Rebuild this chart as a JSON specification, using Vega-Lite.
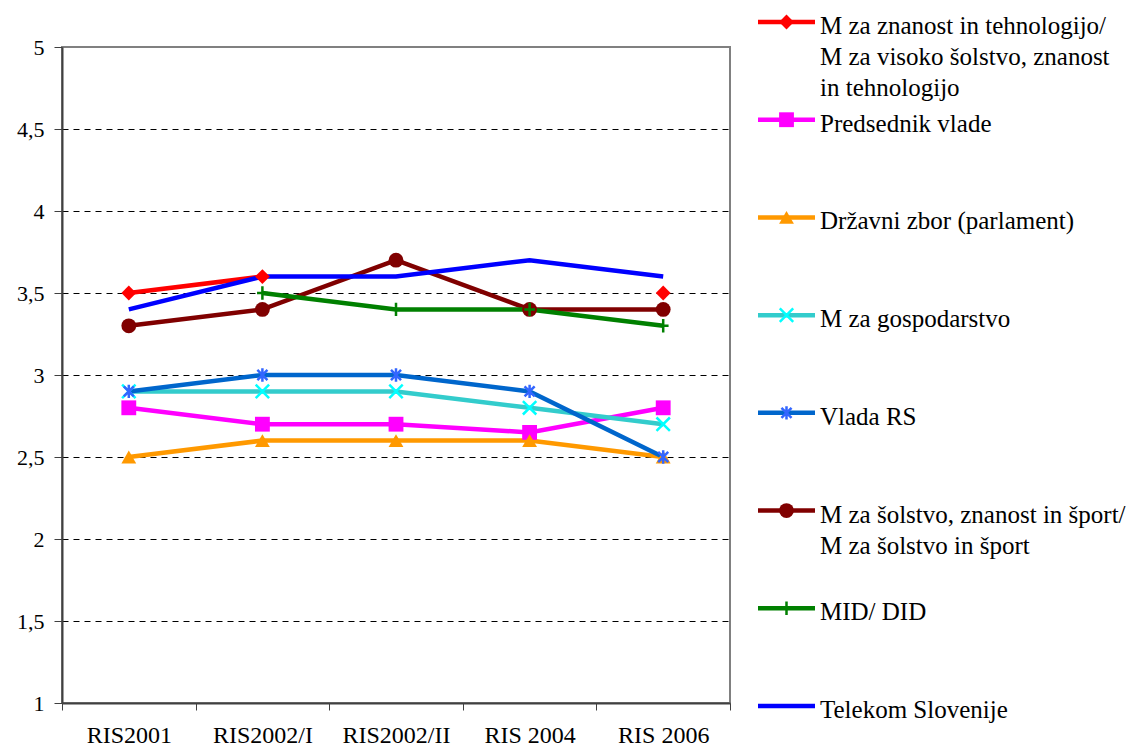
{
  "$schema": "https://vega.github.io/schema/vega-lite/v6.json",
  "background": "white",
  "padding": {"left": 15, "top": 14, "right": 0, "bottom": 0},
  "config": {
    "font": "Times New Roman",
    "view": {"stroke": "#808080", "strokeWidth": 2},
    "concat": {"spacing": 23}
  },
  "resolve": {"scale": {"x": "independent", "y": "independent"}},
  "datasets": {
    "main": [
      {"period": "RIS2001", "series": "M za znanost in tehnologijo", "value": 3.5},
      {"period": "RIS2002/I", "series": "M za znanost in tehnologijo", "value": 3.6},
      {"period": "RIS2002/II", "series": "M za znanost in tehnologijo", "value": null},
      {"period": "RIS 2004", "series": "M za znanost in tehnologijo", "value": null},
      {"period": "RIS 2006", "series": "M za znanost in tehnologijo", "value": 3.5},
      {"period": "RIS2001", "series": "Predsednik vlade", "value": 2.8},
      {"period": "RIS2002/I", "series": "Predsednik vlade", "value": 2.7},
      {"period": "RIS2002/II", "series": "Predsednik vlade", "value": 2.7},
      {"period": "RIS 2004", "series": "Predsednik vlade", "value": 2.65},
      {"period": "RIS 2006", "series": "Predsednik vlade", "value": 2.8},
      {"period": "RIS2001", "series": "Državni zbor (parlament)", "value": 2.5},
      {"period": "RIS2002/I", "series": "Državni zbor (parlament)", "value": 2.6},
      {"period": "RIS2002/II", "series": "Državni zbor (parlament)", "value": 2.6},
      {"period": "RIS 2004", "series": "Državni zbor (parlament)", "value": 2.6},
      {"period": "RIS 2006", "series": "Državni zbor (parlament)", "value": 2.5},
      {"period": "RIS2001", "series": "M za gospodarstvo", "value": 2.9},
      {"period": "RIS2002/I", "series": "M za gospodarstvo", "value": 2.9},
      {"period": "RIS2002/II", "series": "M za gospodarstvo", "value": 2.9},
      {"period": "RIS 2004", "series": "M za gospodarstvo", "value": 2.8},
      {"period": "RIS 2006", "series": "M za gospodarstvo", "value": 2.7},
      {"period": "RIS2001", "series": "Vlada RS", "value": 2.9},
      {"period": "RIS2002/I", "series": "Vlada RS", "value": 3.0},
      {"period": "RIS2002/II", "series": "Vlada RS", "value": 3.0},
      {"period": "RIS 2004", "series": "Vlada RS", "value": 2.9},
      {"period": "RIS 2006", "series": "Vlada RS", "value": 2.5},
      {"period": "RIS2001", "series": "M za šolstvo, znanost in šport", "value": 3.3},
      {"period": "RIS2002/I", "series": "M za šolstvo, znanost in šport", "value": 3.4},
      {"period": "RIS2002/II", "series": "M za šolstvo, znanost in šport", "value": 3.7},
      {"period": "RIS 2004", "series": "M za šolstvo, znanost in šport", "value": 3.4},
      {"period": "RIS 2006", "series": "M za šolstvo, znanost in šport", "value": 3.4},
      {"period": "RIS2001", "series": "MID/ DID", "value": null},
      {"period": "RIS2002/I", "series": "MID/ DID", "value": 3.5},
      {"period": "RIS2002/II", "series": "MID/ DID", "value": 3.4},
      {"period": "RIS 2004", "series": "MID/ DID", "value": 3.4},
      {"period": "RIS 2006", "series": "MID/ DID", "value": 3.3},
      {"period": "RIS2001", "series": "Telekom Slovenije", "value": 3.4},
      {"period": "RIS2002/I", "series": "Telekom Slovenije", "value": 3.6},
      {"period": "RIS2002/II", "series": "Telekom Slovenije", "value": 3.6},
      {"period": "RIS 2004", "series": "Telekom Slovenije", "value": 3.7},
      {"period": "RIS 2006", "series": "Telekom Slovenije", "value": 3.6}
    ],
    "legend": [
      {"series": "M za znanost in tehnologijo", "label": ["M za znanost in tehnologijo/", "M za visoko šolstvo, znanost", "in tehnologijo"]},
      {"series": "Predsednik vlade", "label": ["Predsednik vlade"]},
      {"series": "Državni zbor (parlament)", "label": ["Državni zbor (parlament)"]},
      {"series": "M za gospodarstvo", "label": ["M za gospodarstvo"]},
      {"series": "Vlada RS", "label": ["Vlada RS"]},
      {"series": "M za šolstvo, znanost in šport", "label": ["M za šolstvo, znanost in šport/", "M za šolstvo in šport"]},
      {"series": "MID/ DID", "label": ["MID/ DID"]},
      {"series": "Telekom Slovenije", "label": ["Telekom Slovenije"]}
    ]
  },
  "hconcat": [
    {
      "width": 668,
      "height": 656,
      "data": {"name": "main"},
      "encoding": {
        "x": {
          "field": "period", "type": "nominal",
          "sort": ["RIS2001", "RIS2002/I", "RIS2002/II", "RIS 2004", "RIS 2006"],
          "scale": {"type": "band", "paddingInner": 0, "paddingOuter": 0},
          "bandPosition": 0.5,
          "axis": {
            "title": null, "labelAngle": 0, "tickBand": "extent", "grid": false,
            "labelFont": "Times New Roman", "labelFontSize": 24, "labelColor": "#000000",
            "labelPadding": 13, "tickSize": 7, "tickColor": "#404040", "tickWidth": 1,
            "domainColor": "#404040", "domainWidth": 2
          }
        },
        "y": {
          "field": "value", "type": "quantitative",
          "scale": {"domain": [1, 5], "nice": false, "zero": false},
          "axis": {
            "title": null,
            "values": [1, 1.5, 2, 2.5, 3, 3.5, 4, 4.5, 5],
            "format": "~g",
            "labelExpr": "replace(datum.label, '.', ',')",
            "labelFont": "Times New Roman", "labelFontSize": 22, "labelColor": "#000000",
            "labelPadding": 10, "tickSize": 8, "tickColor": "#404040", "tickWidth": 1,
            "domainColor": "#404040", "domainWidth": 2,
            "grid": true, "gridColor": "#000000", "gridDash": [6, 5], "gridWidth": 1,
            "gridOpacity": {"condition": {"test": "datum.value == 1 || datum.value == 5", "value": 0}, "value": 1}
          }
        }
      },
      "layer": [
        {
          "mark": {"type": "line", "strokeWidth": 4.5, "invalid": "break-paths-filter-domains"},
          "encoding": {
            "order": {"value": null},
            "color": {
              "field": "series", "type": "nominal", "legend": null,
              "scale": {
                "domain": ["M za znanost in tehnologijo", "Predsednik vlade", "Državni zbor (parlament)", "M za gospodarstvo", "Vlada RS", "M za šolstvo, znanost in šport", "MID/ DID", "Telekom Slovenije"],
                "range": ["#FF0000", "#FF00FF", "#FF9900", "#33CCCC", "#0066CC", "#800000", "#008000", "#0000FF"]
              }
            }
          }
        },
        {
          "transform": [{"filter": {"field": "series", "oneOf": ["M za znanost in tehnologijo", "Predsednik vlade", "Državni zbor (parlament)", "M za šolstvo, znanost in šport"]}}],
          "mark": {"type": "point", "filled": true, "opacity": 1, "size": 220},
          "encoding": {
            "fill": {
              "field": "series", "type": "nominal", "legend": null,
              "scale": {
                "domain": ["M za znanost in tehnologijo", "Predsednik vlade", "Državni zbor (parlament)", "M za šolstvo, znanost in šport"],
                "range": ["#FF0000", "#FF00FF", "#FF9900", "#800000"]
              }
            },
            "shape": {
              "field": "series", "type": "nominal", "legend": null,
              "scale": {
                "domain": ["M za znanost in tehnologijo", "Predsednik vlade", "Državni zbor (parlament)", "M za šolstvo, znanost in šport", "M za gospodarstvo", "Vlada RS", "MID/ DID"],
                "range": ["diamond", "square", "triangle-up", "circle", "M-1,-1L1,1M-1,1L1,-1", "M-0.75,-0.75L0.75,0.75M-0.75,0.75L0.75,-0.75M0,-1L0,1", "M0,-1L0,1M-0.8,0L0.8,0"]
              }
            }
          }
        },
        {
          "transform": [{"filter": {"field": "series", "oneOf": ["M za gospodarstvo", "Vlada RS", "MID/ DID"]}}],
          "mark": {"type": "point", "filled": false, "opacity": 1, "size": 180, "strokeWidth": 2.5},
          "encoding": {
            "stroke": {
              "field": "series", "type": "nominal", "legend": null,
              "scale": {
                "domain": ["M za gospodarstvo", "Vlada RS", "MID/ DID"],
                "range": ["#00FFFF", "#3366FF", "#008000"]
              }
            },
            "shape": {"field": "series", "type": "nominal", "legend": null}
          }
        }
      ]
    },
    {
      "width": 375,
      "height": 656,
      "view": {"stroke": null},
      "data": {"name": "legend"},
      "encoding": {
        "y": {
          "field": "series", "type": "nominal", "axis": null,
          "scale": {
            "type": "point", "padding": 0, "range": [-25, 659],
            "domain": ["M za znanost in tehnologijo", "Predsednik vlade", "Državni zbor (parlament)", "M za gospodarstvo", "Vlada RS", "M za šolstvo, znanost in šport", "MID/ DID", "Telekom Slovenije"]
          }
        }
      },
      "layer": [
        {
          "mark": {"type": "rule", "strokeWidth": 4.5},
          "encoding": {
            "x": {"datum": 0, "type": "quantitative", "scale": {"domain": [0, 375], "nice": false, "zero": false}, "axis": null},
            "x2": {"datum": 57},
            "color": {"field": "series", "type": "nominal", "legend": null}
          }
        },
        {
          "transform": [{"filter": {"field": "series", "oneOf": ["M za znanost in tehnologijo", "Predsednik vlade", "Državni zbor (parlament)", "M za šolstvo, znanost in šport"]}}],
          "mark": {"type": "point", "filled": true, "opacity": 1, "size": 220},
          "encoding": {
            "x": {"datum": 28.5, "type": "quantitative"},
            "fill": {"field": "series", "type": "nominal", "legend": null},
            "shape": {"field": "series", "type": "nominal", "legend": null}
          }
        },
        {
          "transform": [{"filter": {"field": "series", "oneOf": ["M za gospodarstvo", "Vlada RS", "MID/ DID"]}}],
          "mark": {"type": "point", "filled": false, "opacity": 1, "size": 180, "strokeWidth": 2.5},
          "encoding": {
            "x": {"datum": 28.5, "type": "quantitative"},
            "stroke": {"field": "series", "type": "nominal", "legend": null},
            "shape": {"field": "series", "type": "nominal", "legend": null}
          }
        },
        {
          "mark": {"type": "text", "align": "left", "baseline": "top", "dy": -8, "font": "Times New Roman", "fontSize": 25, "lineHeight": 31, "color": "#000000"},
          "encoding": {
            "x": {"datum": 62, "type": "quantitative"},
            "text": {"field": "label", "type": "nominal"}
          }
        }
      ]
    }
  ]
}
